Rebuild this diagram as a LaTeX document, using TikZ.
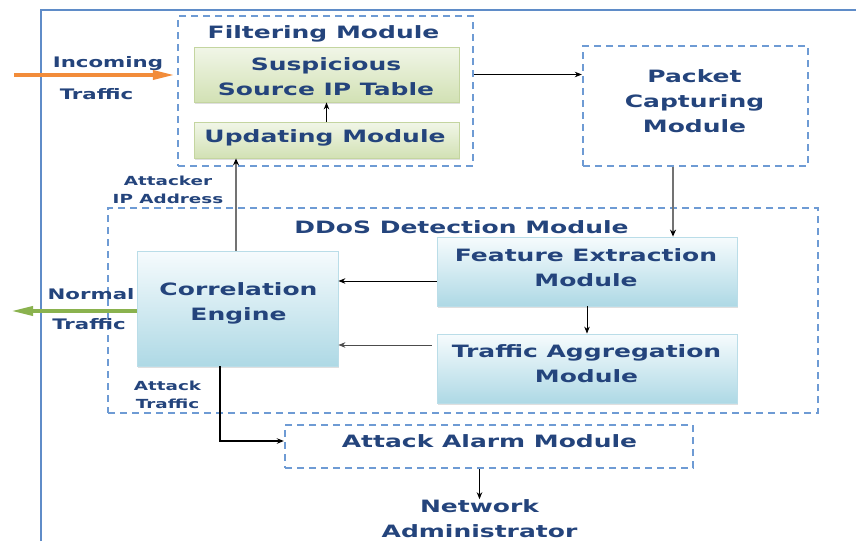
\documentclass[tikz,border=0pt]{standalone}
\usepackage{fontspec}
\setmainfont{DejaVu Sans}[FakeStretch=1.47]
\usetikzlibrary{arrows.meta,shadows}

\definecolor{txtblue}{RGB}{36,68,124}
\definecolor{dashblue}{RGB}{110,155,212}
\definecolor{frameblue}{RGB}{95,140,200}
\definecolor{greentop}{RGB}{241,246,232}
\definecolor{greenbot}{RGB}{210,225,180}
\definecolor{greenline}{RGB}{196,213,160}
\definecolor{bluetop}{RGB}{246,251,253}
\definecolor{bluebot}{RGB}{174,217,229}
\definecolor{blueline}{RGB}{186,221,232}
\definecolor{incorange}{RGB}{242,140,58}
\definecolor{normgreen}{RGB}{138,178,78}

\tikzset{
  boxtxt/.style={text=txtblue, font=\bfseries\fontsize{17}{25}\selectfont, align=center, inner sep=0pt},
  biglbl/.style={text=txtblue, font=\bfseries\fontsize{14.5}{16}\selectfont, align=center, inner sep=0pt},
  smalllbl/.style={text=txtblue, font=\bfseries\fontsize{12.5}{17.5}\selectfont, align=center, inner sep=0pt},
  modbox/.style={draw=dashblue, line width=2.4pt, dash pattern=on 7pt off 5pt, inner sep=0pt},
  greenbox/.style={draw=greenline, line width=0.8pt, top color=greentop, bottom color=greenbot, inner sep=0pt,
    drop shadow={opacity=0.25, shadow xshift=1pt, shadow yshift=-1.5pt}},
  bluebox/.style={draw=blueline, line width=0.8pt, top color=bluetop, bottom color=bluebot, inner sep=0pt,
    drop shadow={opacity=0.25, shadow xshift=1pt, shadow yshift=-1.5pt}},
  arr/.style={-{Stealth[length=7pt,width=5.5pt]}, line width=0.9pt},
  thickarr/.style={-{Stealth[length=7pt,width=6pt,color=black]}, line width=1.8pt, draw=black!55},
  flowarr/.style={line width=4.5pt, -{Triangle[length=24pt,width=8.5pt]}}
}

\begin{document}
\begin{tikzpicture}[x=1pt,y=-1pt]
\useasboundingbox (0,0) rectangle (856,541);
\draw[frameblue, line width=2.5pt] (41,541) -- (41,10) -- (856,10);

% module frames
\node[modbox, minimum width=295pt, minimum height=150pt] (filt) at (325.5,91) {};
\node[modbox, minimum width=225pt, minimum height=120pt] (pcm) at (695.5,106) {};
\node[modbox, minimum width=710pt, minimum height=205pt] (ddos) at (463,310.5) {};
\node[modbox, minimum width=408pt, minimum height=43pt] (aam) at (489,446.5) {};

% inner boxes
\node[greenbox, minimum width=265pt, minimum height=55pt] (sipt) at (326.5,74.5) {};
\node[greenbox, minimum width=265pt, minimum height=36pt] (upd) at (326.5,140) {};
\node[bluebox, minimum width=300pt, minimum height=69pt] (fem) at (587,271.5) {};
\node[bluebox, minimum width=300pt, minimum height=69pt] (tam) at (587,368.5) {};
\node[bluebox, minimum width=201pt, minimum height=115pt] (ce) at (237.5,308.5) {};

% texts
\node[boxtxt] (filttitle) at (323.5,33.5) {Filtering Module};
\node[boxtxt] (sipttxt) at (326,77) {Suspicious\\Source IP Table};
\node[boxtxt] (updtxt) at (325,137.5) {Updating Module};
\node[boxtxt] (pcmtxt) at (694.5,101.5) {Packet\\Capturing\\Module};
\node[boxtxt] (ddostitle) at (461.5,227.5) {DDoS Detection Module};
\node[boxtxt] (femtxt) at (586,268) {Feature Extraction\\Module};
\node[boxtxt] (tamtxt) at (586.5,363.5) {Traffic Aggregation\\Module};
\node[boxtxt] (cetxt) at (238.5,303) {Correlation\\Engine};
\node[boxtxt] (aamtxt) at (489.5,441.5) {Attack Alarm Module};
\node[boxtxt] (na) at (479.5,518.5) {Network\\Administrator};

\node[biglbl] (inclbl) at (108,64) {Incoming};
\node[biglbl] (inclbl2) at (96.5,94) {Traffic};
\node[biglbl] (normlbl) at (91,294.5) {Normal};
\node[biglbl] (normlbl2) at (89,324.5) {Traffic};
\node[smalllbl] (atklbl) at (168,190) {Attacker\\IP Address};
\node[smalllbl] (trflbl) at (167.5,395) {Attack\\Traffic};

% connectors
\coordinate (incin) at (14,75);
\coordinate (normout) at (9,311);
\draw[flowarr, incorange] (incin) -- (incin -| filt.west);
\draw[flowarr, normgreen] (ce.west |- normout) -- (normout);
\draw[arr] (sipt.east -| filt.east) -- (sipt.east -| pcm.west);
\draw[thickarr] ([xshift=-22.5pt]pcm.south) -- ([xshift=-22.5pt]pcm.south |- fem.north);
\draw[arr] (fem) -- (tam);
\draw[arr] ([yshift=-9.5pt]fem.west) -- ([yshift=-9.5pt]fem.west -| ce.east);
\draw[arr, black!70] ([xshift=-5pt,yshift=23.5pt]tam.west) -- ([yshift=23.5pt]tam.west -| ce.east);
\draw[thickarr] ([xshift=-1.5pt]ce.north) -- ([xshift=-1.5pt]ce.north |- upd.south);
\draw[arr, line width=1.3pt] (upd.north -| sipt.south) -- (sipt.south);
\draw[arr, line width=1.3pt] ([xshift=-17.5pt]ce.south) |- ([yshift=5.5pt]aam.west);
\draw[arr] (aam.south -| na.north) -- (na.north);
\end{tikzpicture}
\end{document}
